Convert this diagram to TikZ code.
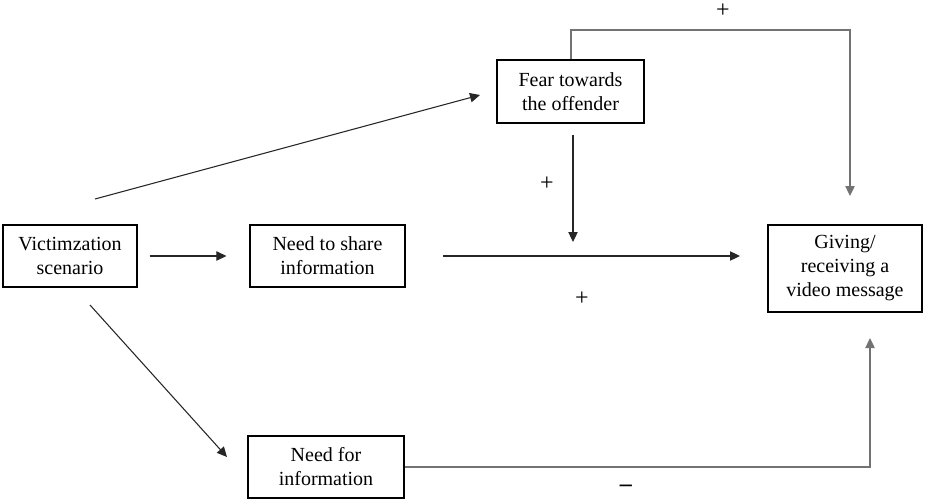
\documentclass[tikz,border=0pt]{standalone}
\usepackage{fontspec}
\setmainfont{Liberation Serif}
\usetikzlibrary{arrows.meta}
\begin{document}
\begin{tikzpicture}[x=0.75pt,y=-0.75pt,
  box/.style={draw=black,line width=1.1pt,align=center,inner sep=0pt,
    font=\fontsize{15}{18}\selectfont},
  link/.style={line width=0.8pt,draw=black!85,-{Triangle[length=7.5pt,width=7pt]}},
  elbow/.style={line width=0.9pt,draw=black!55,-{Triangle[length=7.5pt,width=7pt]}},
  sign/.style={font=\fontsize{18}{18}\selectfont,inner sep=0pt}]
\useasboundingbox (0,0) rectangle (948,500);
\node[box,minimum width=100.5pt,minimum height=46.5pt] (V) at (70,256) {Victimzation\\scenario};
\node[box,minimum width=116pt,minimum height=46.5pt] (S) at (327.5,256) {Need to share\\information};
\node[box,minimum width=117pt,minimum height=46.5pt] (N) at (326,467) {Need for\\information};
\node[box,minimum width=110pt,minimum height=47pt] (F) at (570.5,91.5) {Fear towards\\the offender};
\node[box,minimum width=115.5pt,minimum height=65pt] (G) at (845,268.5) {Giving/\\receiving a\\video message};
\coordinate (v1) at (95,199);
\coordinate (f1) at (480,95);
\coordinate (v2) at (90,305);
\coordinate (n1) at (227,457);
\coordinate (s1) at (443,256);
\coordinate (g1) at (740,256);
\coordinate (f2) at (573,135);
\coordinate (m1) at (573,242);
\coordinate (t1) at (571,30);
\coordinate (t2) at (850,30);
\coordinate (g2) at (850,196);
\coordinate (b1) at (870,467);
\coordinate (g3) at (870,338);
\draw[link] (v1) -- (f1);
\draw[link,shorten <=9pt,shorten >=17.25pt] (V.east) -- (S.west);
\draw[link] (v2) -- (n1);
\draw[link] (s1) -- (g1);
\draw[link] (f2) -- (m1);
\draw[elbow] (F.north -| t1) -- (t1) -- (t2) -- (g2);
\draw[elbow] (N.east) -- (b1) -- (g3);
\node[sign] (p1) at (723,11) {+};
\node[sign] (p2) at (547,184) {+};
\node[sign] (p3) at (582,299) {+};
\node[sign] (m) at (626,488) {\textbf{–}};
\end{tikzpicture}
\end{document}
